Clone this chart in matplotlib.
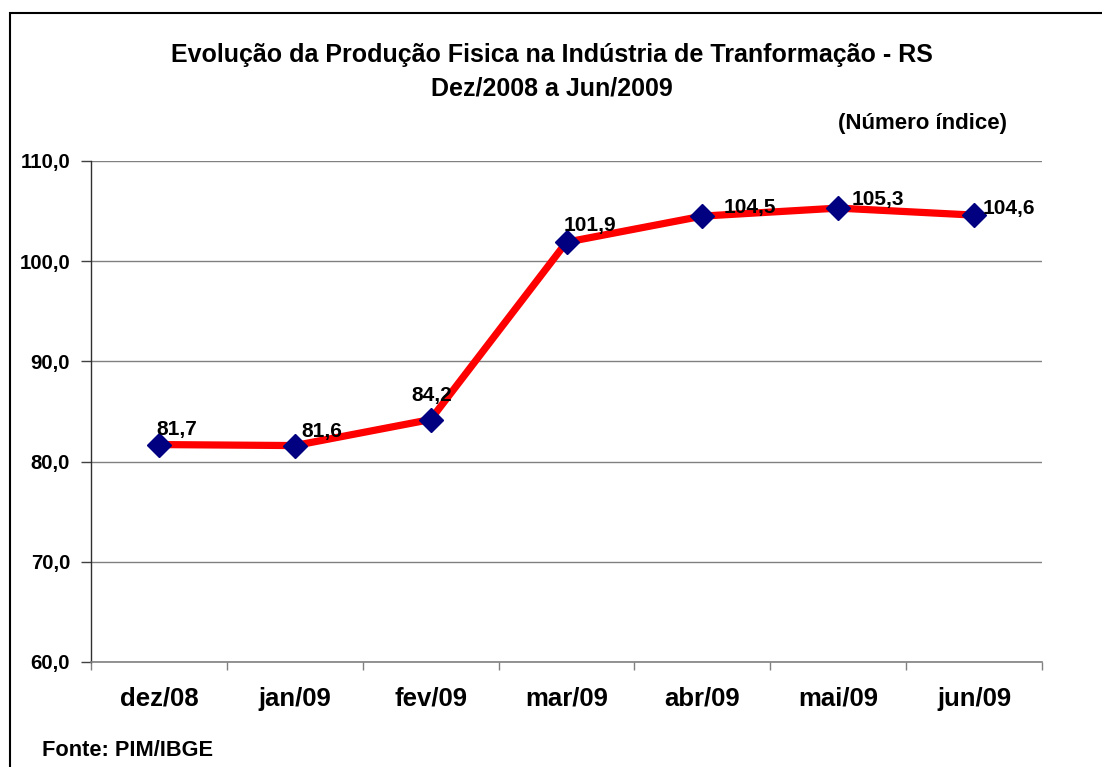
import matplotlib
matplotlib.use("Agg")
import matplotlib.pyplot as plt
from matplotlib.patches import Rectangle

months = ["dez/08", "jan/09", "fev/09", "mar/09", "abr/09", "mai/09", "jun/09"]
values = [81.7, 81.6, 84.2, 101.9, 104.5, 105.3, 104.6]
labels = ["81,7", "81,6", "84,2", "101,9", "104,5", "105,3", "104,6"]
yticks = [60, 70, 80, 90, 100, 110]
ytick_labels = ["60,0", "70,0", "80,0", "90,0", "100,0", "110,0"]

# label offsets in points (position styling)
label_offsets = [(-2, 11), (5, 10), (-14, 17), (-2, 12), (15, 6), (10, 6), (6, 5)]

plt.rcParams['font.family'] = ['Liberation Sans', 'DejaVu Sans']
plt.rcParams['font.weight'] = 'bold'

W, H = 1102, 767
fig = plt.figure(figsize=(W / 100, H / 100), dpi=100)
ax = fig.add_axes([91 / W, 1 - 662 / H, (1042 - 91) / W, (662 - 161) / H])

x = list(range(len(months)))
ax.plot(x, values, color="#FF0000", linewidth=5.2, marker="D", markersize=12.5,
        markerfacecolor="#000080", markeredgecolor="#000080", zorder=3,
        solid_joinstyle="round")

for xi, v, lab, off in zip(x, values, labels, label_offsets):
    ax.annotate(lab, (xi, v), xytext=off, textcoords="offset points",
                ha="left", va="center", fontsize=15, fontweight="bold", zorder=4)

ax.set_xlim(-0.5, len(months) - 0.5)
ax.set_ylim(60, 110)
ax.set_yticks(yticks)
ax.set_yticklabels(ytick_labels, fontsize=14.7, fontweight="bold")
ax.set_xticks(x)
ax.set_xticklabels(months, fontsize=18.5, fontweight="bold")
ax.tick_params(axis="x", length=0, pad=18)
ax.set_xticks([i + 0.5 for i in range(-1, len(months))], minor=True)
ax.tick_params(axis="x", which="minor", length=6, color="#808080", width=1)
ax.tick_params(axis="y", length=7, color="#404040", width=1, pad=8)

ax.grid(axis="y", color="#808080", linewidth=1)
ax.set_axisbelow(True)
for s in ["top", "right"]:
    ax.spines[s].set_visible(False)
ax.spines["left"].set_color("#303030")
ax.spines["bottom"].set_color("#808080")
ax.spines["left"].set_linewidth(1)
ax.spines["bottom"].set_linewidth(1.2)

fig.text(552 / W, 1 - 55 / H, "Evolução da Produção Fisica na Indústria de Tranformação - RS",
         ha="center", va="center", fontsize=18, fontweight="bold")
fig.text(552 / W, 1 - 88 / H, "Dez/2008 a Jun/2009",
         ha="center", va="center", fontsize=18, fontweight="bold")
fig.text(1007 / W, 1 - 124 / H, "(Número índice)",
         ha="right", va="center", fontsize=16, fontweight="bold")
fig.text(42 / W, 1 - 750 / H, "Fonte: PIM/IBGE",
         ha="left", va="center", fontsize=15.7, fontweight="bold")

fig.patches.append(Rectangle((10 / W, -0.01), 1.1, 1 - 13 / H + 0.01,
                             transform=fig.transFigure, fill=False,
                             edgecolor="#000000", linewidth=1.5))

fig.savefig("out.png", dpi=100)
